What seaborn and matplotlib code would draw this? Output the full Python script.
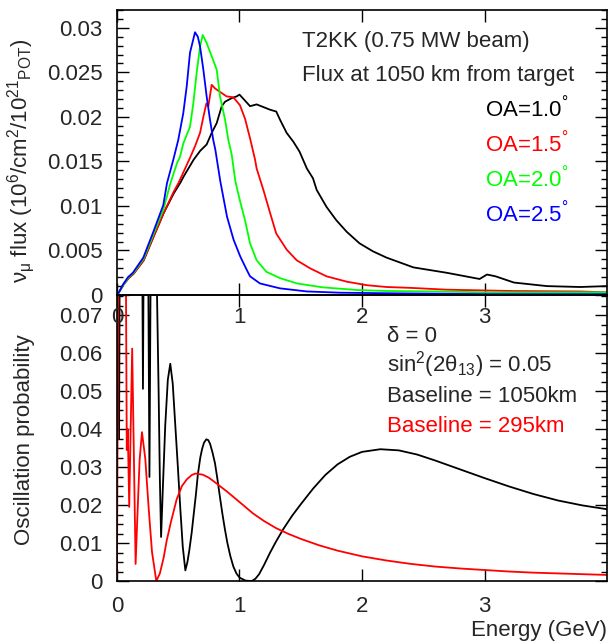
import numpy as np
import pandas as pd
import matplotlib
matplotlib.use("Agg")
import matplotlib.pyplot as plt
from matplotlib.ticker import MultipleLocator, FuncFormatter
import seaborn as sns

# flux at 1050 km, one curve per off-axis angle (GeV, 10^6/cm2/10^21 POT)
e_oa10 = [0.0, 0.02, 0.05, 0.095, 0.136, 0.218, 0.3, 0.381, 0.463, 0.517, 0.544, 0.626, 0.68,
          0.732, 0.773, 0.814, 0.855, 0.882, 0.936, 0.977, 1.0, 1.04, 1.086, 1.14, 1.195, 1.25,
          1.3, 1.33, 1.385, 1.44, 1.49, 1.55, 1.6, 1.63, 1.71, 1.79, 1.875, 1.98, 2.09, 2.2,
          2.42, 2.69, 2.96, 3.02, 3.09, 3.24, 3.51, 3.78, 4.0]
f_oa10 = [0.0, 0.0004, 0.0011, 0.0019, 0.0024, 0.0039, 0.0066, 0.0092, 0.0114, 0.0126, 0.0133,
          0.0152, 0.0162, 0.0169, 0.0182, 0.0193, 0.0212, 0.0217, 0.0221, 0.0223, 0.0225,
          0.0219, 0.0212, 0.0214, 0.0211, 0.0208, 0.0206, 0.0197, 0.0182, 0.0172, 0.0161,
          0.0142, 0.0131, 0.0118, 0.0099, 0.0084, 0.0071, 0.0058, 0.0049, 0.0042, 0.0031,
          0.0025, 0.0018, 0.0023, 0.0021, 0.0014, 0.001, 0.0009, 0.001]

e_oa15 = [0.0, 0.02, 0.05, 0.095, 0.136, 0.218, 0.3, 0.381, 0.463, 0.503, 0.596, 0.637, 0.678,
          0.705, 0.73, 0.746, 0.773, 0.8, 0.841, 0.895, 0.95, 1.004, 1.045, 1.086, 1.127, 1.14,
          1.195, 1.25, 1.3, 1.385, 1.467, 1.576, 1.71, 1.875, 2.04, 2.2, 2.4, 2.69, 3.23, 3.78, 4.0]
f_oa15 = [0.0, 0.0004, 0.0011, 0.0019, 0.0024, 0.0039, 0.0066, 0.0092, 0.0116, 0.0126, 0.0154,
          0.0167, 0.0182, 0.02, 0.0215, 0.0212, 0.0236, 0.0232, 0.0228, 0.0223, 0.0222, 0.0213,
          0.0198, 0.0176, 0.0152, 0.0142, 0.0118, 0.0092, 0.0069, 0.0051, 0.0039, 0.003, 0.0021,
          0.0015, 0.0011, 0.0009, 0.0008, 0.0006, 0.00045, 0.0004, 0.0003]

e_oa20 = [0.0, 0.02, 0.05, 0.095, 0.136, 0.218, 0.3, 0.381, 0.435, 0.49, 0.514, 0.541, 0.596,
          0.623, 0.65, 0.678, 0.7, 0.732, 0.773, 0.814, 0.841, 0.882, 0.909, 0.936, 0.966, 1.0,
          1.045, 1.086, 1.14, 1.22, 1.33, 1.47, 1.68, 1.96, 2.2, 2.6, 3.0, 3.5, 4.0]
f_oa20 = [0.0, 0.0004, 0.0011, 0.002, 0.0025, 0.0041, 0.0069, 0.0097, 0.0125, 0.0148, 0.0155,
          0.017, 0.0189, 0.0215, 0.0249, 0.0279, 0.0292, 0.0283, 0.0268, 0.0253, 0.0223, 0.0197,
          0.0174, 0.0158, 0.0128, 0.0108, 0.0084, 0.0058, 0.0039, 0.0026, 0.0019, 0.0013,
          0.00086, 0.00056, 0.00045, 0.0004, 0.0003, 0.0003, 0.0003]

e_oa25 = [0.0, 0.02, 0.05, 0.09, 0.13, 0.215, 0.297, 0.378, 0.408, 0.46, 0.5, 0.541, 0.569, 0.596,
          0.637, 0.66, 0.678, 0.705, 0.732, 0.759, 0.786, 0.803, 0.843, 0.898, 0.952, 1.007, 1.06,
          1.086, 1.167, 1.33, 1.55, 1.82, 2.2, 3.0, 4.0]
f_oa25 = [0.0, 0.0004, 0.0012, 0.002, 0.0025, 0.0042, 0.0071, 0.0101, 0.01255, 0.0152, 0.0174,
          0.0204, 0.0234, 0.0272, 0.0295, 0.029, 0.0279, 0.0253, 0.0223, 0.0197, 0.0174, 0.0163,
          0.0128, 0.0088, 0.0062, 0.0043, 0.0028, 0.0021, 0.0013, 0.00075, 0.0004, 0.00026,
          0.0002, 0.0001, 0.0001]

# oscillation probability, delta = 0, sin^2(2 theta13) = 0.05 (0.1 = off the top of the plot)
e_1050 = [0.0, 0.009, 0.017, 0.024, 0.1, 0.204, 0.212, 0.22, 0.252, 0.265, 0.278, 0.31, 0.327,
          0.34, 0.35, 0.36, 0.375, 0.394, 0.415, 0.435, 0.455, 0.476, 0.497, 0.517, 0.537, 0.558,
          0.575, 0.59, 0.61, 0.626, 0.645, 0.66, 0.68, 0.695, 0.71, 0.729, 0.745, 0.76, 0.78, 0.8,
          0.82, 0.84, 0.86, 0.88, 0.9, 0.925, 0.95, 0.975, 1.0, 1.05, 1.1, 1.13, 1.16, 1.2, 1.25,
          1.3, 1.36, 1.43, 1.5, 1.6, 1.7, 1.8, 1.9, 2.0, 2.15, 2.3, 2.45, 2.6, 2.8, 3.0, 3.2, 3.4,
          3.6, 3.8, 4.0]
p_1050 = [0.1, 0.1, 0.0374, 0.1, 0.1, 0.1, 0.0506, 0.1, 0.1, 0.0274, 0.1, 0.1, 0.075,
          0.0497, 0.027, 0.0116, 0.025, 0.041, 0.053, 0.0572, 0.052, 0.041, 0.03, 0.019, 0.009,
          0.0028, 0.005, 0.008, 0.0128, 0.0175, 0.023, 0.028, 0.0325, 0.0348, 0.0364, 0.0373,
          0.0371, 0.0361, 0.0338, 0.031, 0.0268, 0.0222, 0.0178, 0.0138, 0.0102, 0.0066, 0.0038,
          0.002, 0.0009, 0.0001, 0.0, 0.0006, 0.0018, 0.0042, 0.0075, 0.0105, 0.0138, 0.0172,
          0.0202, 0.0243, 0.0279, 0.0307, 0.0327, 0.034, 0.0347, 0.0344, 0.0333, 0.0317, 0.0294,
          0.0271, 0.0249, 0.0229, 0.0212, 0.0199, 0.0189]

e_295 = [0.0, 0.012, 0.07, 0.08, 0.088, 0.1, 0.124, 0.152, 0.169, 0.185, 0.204, 0.231, 0.259,
         0.286, 0.321, 0.35, 0.38, 0.405, 0.44, 0.487, 0.53, 0.571, 0.61, 0.64, 0.7, 0.75, 0.8,
         0.9, 1.0, 1.11, 1.2, 1.3, 1.4, 1.5, 1.65, 1.8, 2.0, 2.2, 2.4, 2.6, 2.8, 3.0, 3.2, 3.4,
         3.7, 4.0]
p_295 = [0.0, 0.1, 0.1, 0.0345, 0.04, 0.0195, 0.0612, 0.0045, 0.019, 0.032, 0.0392, 0.0322, 0.019,
         0.0076, 0.0, 0.002, 0.006, 0.0105, 0.0155, 0.0215, 0.025, 0.0268, 0.0279, 0.0283, 0.028,
         0.0272, 0.026, 0.0235, 0.0208, 0.0178, 0.0158, 0.0139, 0.0124, 0.0111, 0.0094, 0.008,
         0.0065, 0.0054, 0.0045, 0.0038, 0.0033, 0.0029, 0.0025, 0.0022, 0.0019, 0.0016]

oa_labels = ['1.0', '1.5', '2.0', '2.5']
oa_colors = ['black', 'red', '#00ff00', 'blue']

flux = pd.concat([
    pd.DataFrame({'E': e, 'flux': f, 'OA': lab})
    for e, f, lab in zip([e_oa10, e_oa15, e_oa20, e_oa25],
                         [f_oa10, f_oa15, f_oa20, f_oa25], oa_labels)
], ignore_index=True)

prob = pd.concat([
    pd.DataFrame({'E': e_1050, 'P': p_1050, 'L': '1050'}),
    pd.DataFrame({'E': e_295, 'P': p_295, 'L': '295'}),
], ignore_index=True)

sns.set_theme(style="ticks")
plt.rcParams['font.family'] = ['Liberation Sans', 'DejaVu Sans']
plt.rcParams['mathtext.fontset'] = 'custom'
plt.rcParams['mathtext.rm'] = 'Liberation Sans'
plt.rcParams['mathtext.it'] = 'Liberation Sans'
plt.rcParams['mathtext.bf'] = 'Liberation Sans:bold'
plt.rcParams['font.size'] = 16
plt.rcParams['axes.linewidth'] = 1.2

fig = plt.figure(figsize=(6.08, 6.44), dpi=100)
ax2 = fig.add_axes([0.1924, 0.0978, 0.806, 0.4441])
ax1 = fig.add_axes([0.1924, 0.5419, 0.806, 0.4426])
ax1.patch.set_alpha(0)

sns.lineplot(data=flux, x='E', y='flux', hue='OA', hue_order=oa_labels,
             palette=oa_colors, estimator=None, sort=False, legend=False,
             linewidth=1.3, ax=ax1)
sns.lineplot(data=prob, x='E', y='P', hue='L', hue_order=['1050', '295'],
             palette=['black', 'red'], estimator=None, sort=False, legend=False,
             linewidth=1.3, ax=ax2)

fmt = FuncFormatter(lambda v, p: '%g' % round(v, 4))
for ax in (ax1, ax2):
    ax.set_xlim(0, 4)
    ax.set_xticks([0, 1, 2, 3])
    ax.yaxis.set_major_formatter(fmt)
    ax.tick_params(which='both', direction='in', top=True, right=True, labelsize=16,
                   color='black', width=1.0)
    ax.tick_params(which='major', length=8.5)
    ax.tick_params(which='minor', length=4.3)
    ax.tick_params(axis='y', pad=10.5)
    for s in ax.spines.values():
        s.set_color('black')

ax1.set_ylim(0, 0.032)
ax1.set_yticks(np.arange(0, 0.0301, 0.005))
ax1.yaxis.set_minor_locator(MultipleLocator(0.001))
ax1.tick_params(axis='x', pad=8.5)

ax2.set_ylim(0, 0.0753)
ax2.set_yticks(np.arange(0, 0.0701, 0.01))
ax2.yaxis.set_minor_locator(MultipleLocator(0.0025))
ax2.tick_params(axis='x', pad=11)

ax1.set_xlabel('')
ax1.set_ylabel(r'$\nu_{\mu}$ flux (10$^{6}$/cm$^{2}$/10$^{21}$$_{\mathrm{POT}}$)', fontsize=16)
ax1.yaxis.set_label_coords(-0.163, 0.47)
ax2.set_ylabel('Oscillation probability', fontsize=16)
ax2.yaxis.set_label_coords(-0.167, 0.493)
ax2.set_xlabel('Energy (GeV)', fontsize=16, ha='right')
ax2.xaxis.set_label_coords(1.0, -0.136)

ax1.text(0.3776, 0.871, 'T2KK (0.75 MW beam)', transform=ax1.transAxes, va='baseline', fontsize=16)
ax1.text(0.3776, 0.751, 'Flux at 1050 km from target', transform=ax1.transAxes, va='baseline', fontsize=16)
for lab, col, yb in zip(oa_labels, oa_colors, [0.626, 0.503, 0.380, 0.257]):
    ax1.text(0.751, yb, 'OA=' + lab + '$^{°}$', color=col, transform=ax1.transAxes,
             va='baseline', fontsize=16)

ax2.text(0.551, 0.837, 'δ = 0', transform=ax2.transAxes, va='baseline', fontsize=16)
ax2.text(0.551, 0.732, 'sin$^{2}$(2θ$_{13}$) = 0.05', transform=ax2.transAxes, va='baseline', fontsize=16)
ax2.text(0.551, 0.627, 'Baseline = 1050km', transform=ax2.transAxes, va='baseline', fontsize=16)
ax2.text(0.551, 0.522, 'Baseline = 295km', color='red', transform=ax2.transAxes, va='baseline', fontsize=16)

fig.savefig('out.png', dpi=100)
